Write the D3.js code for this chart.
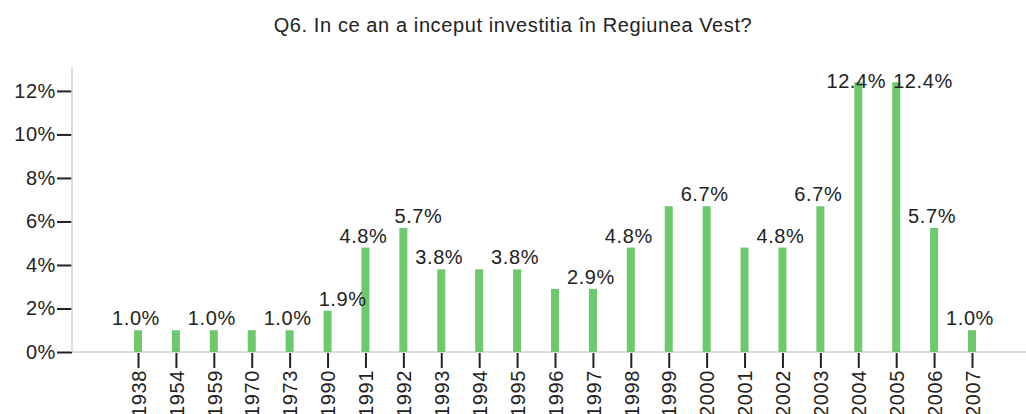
<!DOCTYPE html>
<html>
<head>
<meta charset="utf-8">
<script src="https://cdn.jsdelivr.net/npm/d3@7"></script>
<style>
  body { margin: 0; background: #fff; }
  text { font-family: "Liberation Sans", Arial, sans-serif; fill: #222; letter-spacing: 0.6px; }
</style>
</head>
<body>
<div id="chart"></div>
<script>
// chart data: share of answers per start year (%)
var years = ["1938", "1954", "1959", "1970", "1973", "1990", "1991", "1992", "1993", "1994", "1995",
             "1996", "1997", "1998", "1999", "2000", "2001", "2002", "2003", "2004", "2005", "2006", "2007"];
var percents = [1.0, 1.0, 1.0, 1.0, 1.0, 1.9, 4.8, 5.7, 3.8, 3.8, 3.8,
                2.9, 2.9, 4.8, 6.7, 6.7, 4.8, 4.8, 6.7, 12.4, 12.4, 5.7, 1.0];
// labels that the original chart kept visible
var labelledYears = ["1938", "1959", "1973", "1990", "1991", "1992", "1993", "1995", "1997", "1998",
                     "2000", "2002", "2003", "2004", "2005", "2006", "2007"];
var yTicks = [0, 2, 4, 6, 8, 10, 12];
var title = "Q6. In ce an a inceput investitia în Regiunea Vest?";

var svgWidth = 1026;
var svgHeight = 414;

var Margin = { top: 67, right: 0, bottom: 62, left: 72 };
var height = svgHeight - Margin.top - Margin.bottom;

var svg = d3.select("#chart")
  .append("svg")
  .attr("width", svgWidth)
  .attr("height", svgHeight);

var data = years.map(function(y, i) { return { year: y, value: percents[i] }; });

// scales
var xScale = d3.scalePoint()
  .domain(years)
  .range([138 - Margin.left, 972 - Margin.left]);

var yScale = d3.scaleLinear()
  .domain([0, 13.1])
  .range([height, 0]);

var chartGroup = svg.append("g")
  .attr("transform", `translate(${Margin.left}, ${Margin.top})`);

// title
svg.append("text")
  .attr("x", svgWidth / 2)
  .attr("y", 32)
  .attr("text-anchor", "middle")
  .attr("font-size", "20px")
  .text(title);

// y axis
var leftAxis = d3.axisLeft(yScale)
  .tickValues(yTicks)
  .tickSize(15)
  .tickPadding(1)
  .tickFormat(d => d + "%");

var yAxis = chartGroup.append("g").call(leftAxis);
yAxis.select(".domain").remove();
yAxis.selectAll(".tick line").attr("stroke", "#222").attr("stroke-width", 2);
yAxis.selectAll(".tick text")
  .attr("font-size", "20px")
  .attr("fill", "#222")
  .attr("font-family", "Liberation Sans, Arial, sans-serif");

// x axis
var bottomAxis = d3.axisBottom(xScale)
  .tickSize(0)
  .tickPadding(0);

var xAxis = chartGroup.append("g")
  .attr("transform", `translate(0, ${height})`)
  .call(bottomAxis);
xAxis.select(".domain").remove();
xAxis.selectAll(".tick").append("line")
  .attr("y1", 1)
  .attr("y2", 16)
  .attr("stroke", "#222")
  .attr("stroke-width", 2);
xAxis.selectAll(".tick text")
  .attr("font-size", "20px")
  .attr("fill", "#222")
  .attr("font-family", "Liberation Sans, Arial, sans-serif")
  .attr("text-anchor", "end")
  .attr("transform", "translate(0, 18) rotate(-90)")
  .attr("x", 0)
  .attr("y", 0)
  .attr("dy", "0.36em");

// axis lines
chartGroup.append("line")
  .attr("x1", 0).attr("x2", 0)
  .attr("y1", 0).attr("y2", height)
  .attr("stroke", "#d0d0d0")
  .attr("stroke-width", 1.5);

chartGroup.append("line")
  .attr("x1", 0).attr("x2", svgWidth - Margin.left)
  .attr("y1", height).attr("y2", height)
  .attr("stroke", "#d0d0d0")
  .attr("stroke-width", 1.5);

// bars
var barWidth = 8;
chartGroup.selectAll("rect.bar")
  .data(data)
  .enter()
  .append("rect")
  .attr("class", "bar")
  .attr("x", d => xScale(d.year) - barWidth / 2)
  .attr("y", d => yScale(d.value))
  .attr("width", barWidth)
  .attr("height", d => height - yScale(d.value))
  .attr("fill", "#6cc96c");

// value labels, kept inside the top of the plot
var labelTop = yScale(13.1) + 21;
var labels = chartGroup.selectAll("text.value")
  .data(data.filter(d => labelledYears.indexOf(d.year) >= 0))
  .enter()
  .append("text")
  .attr("class", "value")
  .attr("x", d => xScale(d.year) - 2)
  .attr("y", d => Math.max(yScale(d.value) - 5, labelTop))
  .attr("text-anchor", "middle")
  .attr("font-size", "20px")
  .text(d => d.value.toFixed(1) + "%");

// push a label right when it runs into the one before it
var prev = null;
labels.each(function() {
  var box = this.getBBox();
  if (prev && box.y < prev.y + prev.height && box.y + box.height > prev.y && box.x < prev.x + prev.width) {
    var shift = prev.x + prev.width + 7 - box.x;
    d3.select(this).attr("x", +d3.select(this).attr("x") + shift);
    box = this.getBBox();
  }
  prev = box;
});
</script>
</body>
</html>
